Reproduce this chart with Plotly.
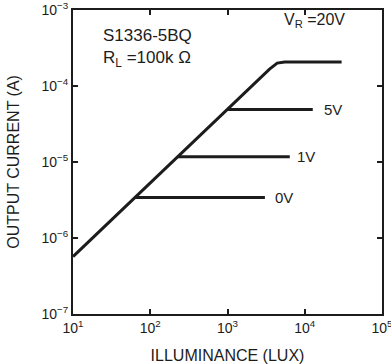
import math
import plotly.graph_objects as go

# Photocurrent vs. illuminance for the S1336-5BQ photodiode (RL = 100 kOhm)
# Main curve: linear region up to saturation at VR = 20 V
lux_20v = [10, 63, 228, 1000, 3500, 4400, 5500, 30000]
cur_20v = [5.7e-7, 3.4e-6, 1.17e-5, 4.9e-5, 1.67e-4, 2.0e-4, 2.07e-4, 2.07e-4]

# Saturation branches for lower reverse voltages
lux_5v = [1000, 12700]
cur_5v = [4.9e-5, 4.9e-5]
lux_1v = [228, 6400]
cur_1v = [1.17e-5, 1.17e-5]
lux_0v = [63, 3050]
cur_0v = [3.4e-6, 3.4e-6]

x_tickvals = [10, 100, 1000, 10000, 100000]
x_ticktext = ["10<sup>1</sup>", "10<sup>2</sup>", "10<sup>3</sup>", "10<sup>4</sup>", "10<sup>5</sup>"]
y_tickvals = [1e-7, 1e-6, 1e-5, 1e-4, 1e-3]
y_ticktext = ["10<sup>−7</sup>", "10<sup>−6</sup>", "10<sup>−5</sup>", "10<sup>−4</sup>", "10<sup>−3</sup>"]

FONT = "Liberation Sans, Arial, sans-serif"
INK = "#1c1c1c"

fig = go.Figure()
line = dict(color=INK, width=3)
for xs, ys in [(lux_20v, cur_20v), (lux_5v, cur_5v), (lux_1v, cur_1v), (lux_0v, cur_0v)]:
    fig.add_trace(go.Scatter(x=xs, y=ys, mode="lines", line=line,
                             hoverinfo="skip", showlegend=False))

# Curve labels: (lux, current, text, font size)
labels = [
    (5000, 7.2e-4, "V<sub>R</sub> =20V", 16),
    (16500, 4.9e-5, "5V", 15),
    (7400, 1.17e-5, "1V", 15),
    (3900, 3.4e-6, "0V", 15),
]
for x, y, text, size in labels:
    fig.add_annotation(x=math.log10(x), y=math.log10(y),
                       text=text, showarrow=False, xanchor="left", yanchor="middle",
                       font=dict(family=FONT, size=size, color=INK))

fig.add_annotation(x=0.09, y=0.915, xref="paper", yref="paper", text="S1336-5BQ",
                   showarrow=False, xanchor="left", yanchor="middle",
                   font=dict(family=FONT, size=17, color=INK))
fig.add_annotation(x=0.09, y=0.84, xref="paper", yref="paper", text="R<sub>L</sub> =100k Ω",
                   showarrow=False, xanchor="left", yanchor="middle",
                   font=dict(family=FONT, size=17, color=INK))

# Vertical axis title
fig.add_annotation(x=-0.195, y=0.5, xref="paper", yref="paper", text="OUTPUT CURRENT (A)",
                   showarrow=False, textangle=-90, xanchor="center", yanchor="middle",
                   font=dict(family=FONT, size=16, color=INK))

axis_common = dict(
    type="log", showline=True, linecolor=INK, linewidth=2, mirror="ticks",
    ticks="inside", ticklen=5, tickwidth=1.5, tickcolor=INK, showgrid=False,
    zeroline=False, automargin=False, ticklabeloverflow="allow",
    tickfont=dict(family=FONT, size=14, color=INK),
)

fig.update_layout(
    width=391, height=364,
    margin=dict(l=73, r=9, t=10, b=50),
    paper_bgcolor="white", plot_bgcolor="white",
    xaxis=dict(axis_common, range=[1, 5], tickvals=x_tickvals, ticktext=x_ticktext,
               title=dict(text="ILLUMINANCE (LUX)",
                          font=dict(family=FONT, size=16, color=INK))),
    yaxis=dict(axis_common, range=[-7, -3], tickvals=y_tickvals, ticktext=y_ticktext),
)

fig.write_html("out.html")
